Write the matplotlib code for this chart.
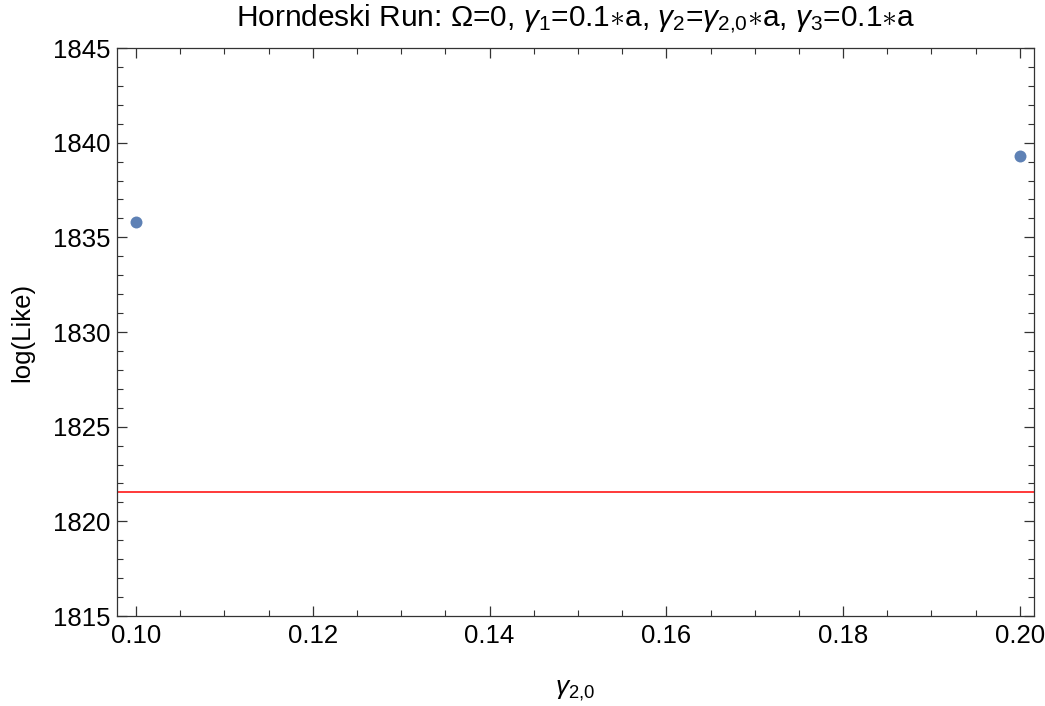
import matplotlib
matplotlib.use("Agg")
import matplotlib.pyplot as plt
from matplotlib.ticker import MultipleLocator, FormatStrFormatter

plt.rcParams['font.family'] = ['Liberation Sans', 'DejaVu Sans']
plt.rcParams['mathtext.fontset'] = 'custom'
plt.rcParams['mathtext.rm'] = 'Liberation Sans'
plt.rcParams['mathtext.it'] = 'Liberation Sans:italic'
plt.rcParams['mathtext.bf'] = 'Liberation Sans:bold'

# data
gamma20 = [0.10, 0.20]
loglike = [1835.8, 1839.3]
reference_loglike = 1821.55

title = (r"Horndeski Run: Ω=0, $\gamma_1$=0.1$\ast$a, "
         r"$\gamma_2$=$\gamma_{2{,}0}$$\ast$a, $\gamma_3$=0.1$\ast$a")
xlabel = r"$\gamma_{2{,}0}$"
ylabel = "log(Like)"

fig = plt.figure(figsize=(10.45, 7.06), dpi=100)
ax = fig.add_axes([117/1045, 90/706, (1034-117)/1045, (616-48)/706])

ax.axhline(reference_loglike, color='#FF2A2A', lw=1.3, zorder=2)
ax.plot(gamma20, loglike, 'o', color='#5E81B5', markersize=8.6, markeredgewidth=0, zorder=3)

ax.set_xlim(0.09785, 0.2016)
ax.set_ylim(1815, 1845)
ax.xaxis.set_major_locator(MultipleLocator(0.02))
ax.xaxis.set_minor_locator(MultipleLocator(0.005))
ax.yaxis.set_major_locator(MultipleLocator(5))
ax.yaxis.set_minor_locator(MultipleLocator(1))
ax.xaxis.set_major_formatter(FormatStrFormatter('%.2f'))

ax.tick_params(which='both', direction='in', top=True, right=True, color='#333333', labelsize=18.5)
ax.tick_params(which='major', length=7.2, width=0.9)
ax.tick_params(which='minor', length=4.3, width=0.8)
ax.tick_params(axis='x', pad=6)
ax.tick_params(axis='y', pad=5)
for s in ax.spines.values():
    s.set_color('#333333')
    s.set_linewidth(0.9)

ax.set_title(title, fontsize=21.5, pad=16)
ax.set_xlabel(xlabel, fontsize=19, labelpad=22)
ax.set_ylabel(ylabel, fontsize=18.5, labelpad=13)

fig.savefig('out.png', dpi=100)
